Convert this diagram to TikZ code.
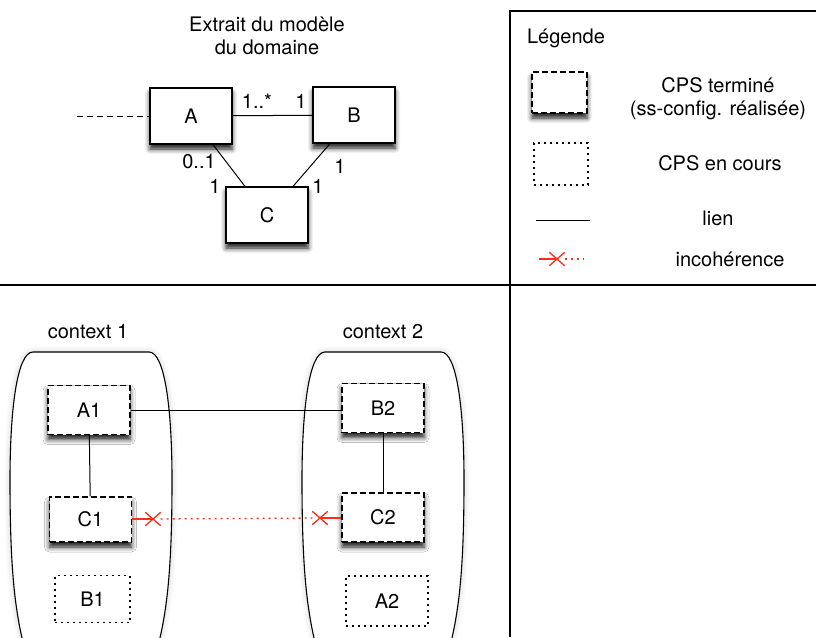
\documentclass[tikz,border=0pt]{standalone}
\usepackage{fontspec}
\setmainfont{TeX Gyre Heros}
\usepackage{tikz}
\usetikzlibrary{shadows.blur,shapes.misc}

\definecolor{incrouge}{RGB}{250,45,25}

\tikzset{
  ombre/.style={blur shadow={shadow xshift=0pt, shadow yshift=-5pt, shadow blur radius=5pt, shadow opacity=90}},
  classe/.style={draw, line width=1.2pt, fill=white, minimum width=82pt, minimum height=56pt, inner sep=0pt, ombre},
  cpsfini/.style={classe, dash pattern=on 6pt off 3pt, minimum height=49pt},
  cpsencours/.style={draw, line width=1.1pt, dash pattern=on 2pt off 4pt, minimum width=78pt, minimum height=47pt, inner sep=0pt},
  lien/.style={line width=1pt},
  incoh/.style={draw=incrouge, line width=1.3pt},
  croix/.style={cross out, draw=incrouge, line width=1.3pt, minimum width=14pt, minimum height=12pt, inner sep=0pt},
  contexte/.style={draw, line width=1.1pt, fill=white, blur shadow={shadow xshift=0pt, shadow yshift=0pt, shadow blur radius=6pt, shadow opacity=20}},
  cadre/.style={line width=1.3pt}
}

\begin{document}
\begin{tikzpicture}[x=1pt, y=-1pt, font=\fontsize{20}{23}\selectfont]
	 \useasboundingbox (0,0) rectangle (816,637);
	 % Le cadre : legende a droite, separation horizontale
	 \draw[cadre] (816,11) -- (510,11) -- (510,637);
	 \draw[cadre] (0,285) -- (816,285);
	 % Extrait du modele du domaine:
	 \node[align=center] (titre) at (267,36) {Extrait du modèle\\du domaine};
	 \node[classe] (A) at (191,116) {A};
	 \node[classe] (B) at (354,115) {B};
	 \node[classe] (C) at (267,215) {C};
	 \coordinate (ext) at (77,116);
	 \coordinate (ac) at ([xshift=22pt]A.south);
	 \coordinate (ca) at ([xshift=-22pt]C.north);
	 \coordinate (bc) at ([xshift=-24pt]B.south);
	 \coordinate (cb) at ([xshift=26pt]C.north);
	 \draw[lien, dash pattern=on 6pt off 4pt] (ext) -- (A);
	 \draw[lien] (A) -- (B);
	 \draw[lien] (ac) -- (ca);
	 \draw[lien] (bc) -- (cb);
	 % Multiplicites
	 \foreach \x/\y/\m/\nom in {257/101/1..*/mab, 301/101/1/mba, 199/162/0..1/mac, 215/186/1/mca, 340/166/1/mbc, 318/186/1/mcb}
	 \node[inner sep=0pt] (\nom) at (\x,\y) {\m};
	 % Legende
	 \node (leg) at (566,38) {Légende};
	 \node[cpsfini, minimum width=55pt, minimum height=41pt] (legfini) at (559.5,92.5) {};
	 \node[cpsencours, minimum width=54pt, minimum height=42pt] (legcours) at (561,164) {};
	 \node[align=center] (txtfini) at (718,99) {CPS terminé\\(ss-config. réalisée)};
	 \node (txtcours) at (720,163.5) {CPS en cours};
	 \coordinate (ll1) at (536,220);
	 \coordinate (ll2) at (590,220);
	 \draw[lien] (ll1) -- (ll2);
	 \node (txtlien) at (718,218) {lien};
	 \coordinate (li1) at (539,259);
	 \node[croix] (lik) at (557,259) {};
	 \coordinate (li2) at (584,259);
	 \draw[incoh] (li1) -- (lik.center);
	 \draw[incoh, dash pattern=on 2pt off 4pt] (lik) -- (li2);
	 \node (txtincoh) at (730,259) {incohérence};
	 % Les deux contextes:
	 \foreach \cx in {91,383}
	 \draw[contexte, shift={(\cx,0)}] (-58,352) -- (58,352) .. controls (74,352) and (81,410) .. (81,480) .. controls (81,570) and (76,612) .. (66,650) -- (-66,650) .. controls (-76,612) and (-81,570) .. (-81,480) .. controls (-81,410) and (-74,352) .. (-58,352) -- cycle;
	 \node (ctx1) at (88,332) {context 1};
	 \node (ctx2) at (383,332) {context 2};
	 % Les CPS
	 \node[cpsfini] (A1) at (89,410) {A1};
	 \node[cpsfini, minimum height=45pt] (C1) at (90.5,519.5) {C1};
	 \node[cpsencours, minimum width=75pt] (B1) at (92.5,599) {B1};
	 \node[cpsfini] (B2) at (383,408) {B2};
	 \node[cpsfini] (C2) at (383,517.5) {C2};
	 \node[cpsencours, minimum width=82pt, minimum height=50pt] (A2) at (387,601) {A2};
	 \draw[lien] (A1) -- (A1 -| B2.west);
	 \draw[lien] (A1) -- (C1);
	 \draw[lien] (B2) -- (C2);
	 % incoherence entre C1 et C2
	 \node[croix] (k1) at (153,519) {};
	 \node[croix] (k2) at (320,518) {};
	 \draw[incoh] (C1.east |- k1) -- (k1.center);
	 \draw[incoh, dash pattern=on 2pt off 4pt] (k1) -- (k2);
	 \draw[incoh] (k2.center) -- (C2.west |- k2);
	 \end{tikzpicture}
\end{document}
